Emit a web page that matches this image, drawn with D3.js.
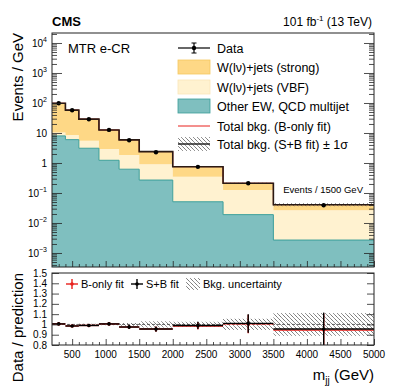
<!DOCTYPE html>
<html>
<head>
<meta charset="utf-8">
<script src="https://cdn.jsdelivr.net/npm/d3@7"></script>
<style>
  body { margin: 0; background: #fff; }
  svg { font-family: "Liberation Sans", Arial, Helvetica, sans-serif; }
</style>
</head>
<body>
<div class="chart"></div>
<script>
// bin edges in m_jj (GeV)
const binEdges = [200, 400, 600, 900, 1200, 1500, 2000, 2750, 3500, 5000];

// stacked backgrounds, events / GeV
const otherEW  = [8.0, 6.0, 3.1, 1.23, 0.62, 0.27, 0.051, 0.019, 0.0027];
const wVBF     = [2.3, 2.6, 2.4, 1.67, 1.23, 0.63, 0.30, 0.107, 0.024];
const wStrong  = [87.7, 49.4, 23.5, 9.7, 4.05, 1.5, 0.40, 0.084, 0.014];

// ratio panel
const ratioSB    = [1.005, 0.985, 0.99, 1.005, 0.975, 0.955, 0.99, 1.01, 0.955];
const ratioSBErr = [0.01, 0.01, 0.01, 0.012, 0.02, 0.025, 0.035, 0.09, 0.16];
const ratioB     = [1.005, 0.985, 0.99, 1.005, 0.975, 0.955, 0.985, 1.005, 0.945];
const bkgUnc     = [0.004, 0.004, 0.006, 0.008, 0.015, 0.03, 0.025, 0.055, 0.11];

const yMajor = [1e-3, 1e-2, 1e-1, 1, 10, 1e2, 1e3, 1e4];
const xMajor = d3.range(500, 5001, 500);
const rMajor = [0.8, 0.9, 1.0, 1.1, 1.2, 1.3, 1.4, 1.5];

const FULL_WIDTH = 399;
const FULL_HEIGHT = 387;
const left = 52, right = 374;
const top1 = 33, bot1 = 267;
const top2 = 273, bot2 = 345;

const cStrong = '#fed886';
const cVBF = '#fff2d0';
const cOther = '#7fbfbf';
const cOtherLine = '#3a9e9a';

const svg = d3.select('.chart')
  .append('svg')
    .attr('width', FULL_WIDTH)
    .attr('height', FULL_HEIGHT);

const defs = svg.append('defs');
defs.append('pattern')
    .attr('id', 'hatch')
    .attr('patternUnits', 'userSpaceOnUse')
    .attr('width', 4).attr('height', 4)
  .append('path')
    .attr('d', 'M-1,-1 l2,2 M0,0 l4,4 M3,3 l2,2')
    .attr('stroke', '#777')
    .attr('stroke-width', 0.8);
defs.append('clipPath').attr('id', 'clipTop')
  .append('rect').attr('x', left).attr('y', top1).attr('width', right - left).attr('height', bot1 - top1);
defs.append('clipPath').attr('id', 'clipBot')
  .append('rect').attr('x', left).attr('y', top2).attr('width', right - left).attr('height', bot2 - top2);

const xScale = d3.scaleLinear().domain([200, 5000]).range([left, right]);
const yScale = d3.scaleLog().domain([Math.pow(10, -3.467), Math.pow(10, 4.333)]).range([bot1, top1]);
const rScale = d3.scaleLinear().domain([0.8, 1.5]).range([bot2, top2]);

const bins = otherEW.map((o, i) => {
  const vbfTop = o + wVBF[i];
  const total = vbfTop + wStrong[i];
  return {
    i, x0: binEdges[i], x1: binEdges[i + 1], xc: (binEdges[i] + binEdges[i + 1]) / 2,
    other: o, vbfTop, total,
    data: total * ratioSB[i]
  };
});

// step points: two per bin
const steps = bins.flatMap(b => [{ x: b.x0, b }, { x: b.x1, b }]);
const yMin = yScale.domain()[0];

const upper = svg.append('g').attr('clip-path', 'url(#clipTop)');

function stepArea (lo, hi, fill) {
  upper.append('path')
    .datum(steps)
    .attr('fill', fill)
    .attr('d', d3.area().x(d => xScale(d.x)).y0(d => yScale(lo(d.b))).y1(d => yScale(hi(d.b))));
}
function stepLine (g, val, color, width, scale) {
  g.append('path')
    .datum(steps)
    .attr('fill', 'none')
    .attr('stroke', color)
    .attr('stroke-width', width)
    .attr('d', d3.line().x(d => xScale(d.x)).y(d => scale(val(d.b))));
}

stepArea(() => yMin, b => b.other, cOther);
stepArea(b => b.other, b => b.vbfTop, cVBF);
stepArea(b => b.vbfTop, b => b.total, cStrong);
stepLine(upper, b => b.other, cOtherLine, 1, yScale);

// S+B uncertainty band on total
upper.append('path')
  .datum(steps)
  .attr('fill', 'url(#hatch)')
  .attr('d', d3.area().x(d => xScale(d.x))
    .y0(d => yScale(d.b.total * (1 - bkgUnc[d.b.i])))
    .y1(d => yScale(d.b.total * (1 + bkgUnc[d.b.i]))));
stepLine(upper, b => b.total * (1 + (ratioSB[b.i] - ratioB[b.i])), '#e8201c', 1, yScale);
stepLine(upper, b => b.total, '#2a1a14', 1.6, yScale);

upper.selectAll('circle.data')
  .data(bins)
  .enter().append('circle')
    .attr('class', 'data')
    .attr('cx', d => xScale(d.xc))
    .attr('cy', d => yScale(d.data))
    .attr('r', 2.2)
    .attr('fill', '#000');

// ---- axes, upper panel
const yMinor = [];
for (let k = -4; k <= 4; k++) {
  for (let m = 2; m <= 9; m++) {
    const v = m * Math.pow(10, k);
    if (v > yScale.domain()[0] && v < yScale.domain()[1]) yMinor.push(v);
  }
}
const xMinor = d3.range(300, 5000, 100).filter(v => v % 500 !== 0);

function ticks (axisFn, scale, values, size, translate) {
  const g = svg.append('g')
    .attr('transform', translate)
    .call(axisFn(scale).tickValues(values).tickSize(size).tickSizeOuter(0).tickFormat(''));
  g.select('.domain').remove();
  g.selectAll('line').attr('stroke', '#222').attr('stroke-width', 0.8);
  return g;
}

ticks(d3.axisLeft, yScale, yMajor, -10, `translate(${left},0)`);
ticks(d3.axisLeft, yScale, yMinor, -5, `translate(${left},0)`);
ticks(d3.axisRight, yScale, yMajor, -10, `translate(${right},0)`);
ticks(d3.axisRight, yScale, yMinor, -5, `translate(${right},0)`);
ticks(d3.axisBottom, xScale, xMajor, -6, `translate(0,${bot1})`);
ticks(d3.axisBottom, xScale, xMinor, -3, `translate(0,${bot1})`);

svg.append('rect')
  .attr('x', left).attr('y', top1)
  .attr('width', right - left).attr('height', bot1 - top1)
  .attr('fill', 'none').attr('stroke', '#222').attr('stroke-width', 1);

const yLab = svg.append('g').attr('font-size', 10).attr('fill', '#000');
yMajor.forEach(v => {
  const k = Math.round(Math.log10(v));
  const t = yLab.append('text')
    .attr('x', 47).attr('y', yScale(v) + 4)
    .attr('text-anchor', 'end');
  if (k === 0) t.text('1');
  else if (k === 1) t.text('10');
  else {
    t.append('tspan').text('10');
    t.append('tspan').attr('font-size', 7).attr('dy', -5).text(k < 0 ? '\u2212' + (-k) : k);
  }
});

// ---- ratio panel
const lower = svg.append('g').attr('clip-path', 'url(#clipBot)');

lower.append('path')
  .datum(steps)
  .attr('fill', 'url(#hatch)')
  .attr('d', d3.area().x(d => xScale(d.x))
    .y0(d => rScale(1 - bkgUnc[d.b.i]))
    .y1(d => rScale(1 + bkgUnc[d.b.i])));
lower.append('line')
  .attr('x1', left).attr('x2', right)
  .attr('y1', rScale(1)).attr('y2', rScale(1))
  .attr('stroke', '#444').attr('stroke-width', 0.8).attr('stroke-dasharray', '3,2');

function ratioPoints (vals, errs, color) {
  const g = lower.append('g').attr('stroke', color).attr('stroke-width', 1.4);
  bins.forEach((b, i) => {
    g.append('line')
      .attr('x1', xScale(b.x0)).attr('x2', xScale(b.x1))
      .attr('y1', rScale(vals[i])).attr('y2', rScale(vals[i]));
    g.append('line')
      .attr('x1', xScale(b.xc)).attr('x2', xScale(b.xc))
      .attr('y1', rScale(vals[i] - errs[i])).attr('y2', rScale(vals[i] + errs[i]));
    g.append('circle')
      .attr('cx', xScale(b.xc)).attr('cy', rScale(vals[i]))
      .attr('r', 1.8).attr('fill', color).attr('stroke', 'none');
  });
}
ratioPoints(ratioB, ratioSBErr, '#e8201c');
ratioPoints(ratioSB, ratioSBErr, '#000');

ticks(d3.axisLeft, rScale, rMajor, -7, `translate(${left},0)`);
ticks(d3.axisRight, rScale, rMajor, -7, `translate(${right},0)`);
ticks(d3.axisBottom, xScale, xMajor, -6, `translate(0,${bot2})`);
ticks(d3.axisBottom, xScale, xMinor, -3, `translate(0,${bot2})`);

svg.append('rect')
  .attr('x', left).attr('y', top2)
  .attr('width', right - left).attr('height', bot2 - top2)
  .attr('fill', 'none').attr('stroke', '#222').attr('stroke-width', 1);

svg.append('g').attr('font-size', 10)
  .selectAll('text')
  .data(rMajor)
  .enter().append('text')
    .attr('x', 47).attr('y', d => rScale(d) + 3.5)
    .attr('text-anchor', 'end')
    .text(d => d3.format('~g')(d));

svg.append('g').attr('font-size', 10)
  .selectAll('text')
  .data(xMajor)
  .enter().append('text')
    .attr('x', d => xScale(d)).attr('y', 358)
    .attr('text-anchor', 'middle')
    .text(d => d);

// ---- titles
svg.append('text').attr('x', 52).attr('y', 26)
  .attr('font-size', 13).attr('font-weight', 'bold').text('CMS');
const lumi = svg.append('text').attr('x', 372).attr('y', 26)
  .attr('font-size', 12).attr('text-anchor', 'end');
lumi.append('tspan').text('101 fb');
lumi.append('tspan').attr('font-size', 8).attr('dy', -5).text('-1');
lumi.append('tspan').attr('dy', 5).text(' (13 TeV)');

svg.append('text').attr('x', 68).attr('y', 53).attr('font-size', 13).text('MTR e-CR');
svg.append('text').attr('x', 363).attr('y', 193).attr('font-size', 9.5)
  .attr('text-anchor', 'end').text('Events / 1500 GeV');

svg.append('text')
  .attr('transform', 'translate(23,33) rotate(-90)')
  .attr('text-anchor', 'end').attr('font-size', 15).text('Events / GeV');
svg.append('text')
  .attr('transform', 'translate(23,273) rotate(-90)')
  .attr('text-anchor', 'end').attr('font-size', 15).text('Data / prediction');

const xt = svg.append('text').attr('x', 374).attr('y', 380)
  .attr('font-size', 15).attr('text-anchor', 'end');
xt.append('tspan').text('m');
xt.append('tspan').attr('font-size', 10).attr('dy', 4).text('jj');
xt.append('tspan').attr('dy', -4).text(' (GeV)');

// ---- legend, upper
const leg = svg.append('g').attr('font-size', 12.5);
const rows = [48, 67, 87, 106, 126, 144];
const lx0 = 178, lx1 = 210, ltx = 217;

leg.append('line').attr('x1', lx0).attr('x2', lx1).attr('y1', rows[0]).attr('y2', rows[0]).attr('stroke', '#000').attr('stroke-width', 1.2);
leg.append('line').attr('x1', 194).attr('x2', 194).attr('y1', rows[0] - 5).attr('y2', rows[0] + 5).attr('stroke', '#000').attr('stroke-width', 1.2);
[rows[0] - 5, rows[0] + 5].forEach(yy => leg.append('line').attr('x1', 191.5).attr('x2', 196.5).attr('y1', yy).attr('y2', yy).attr('stroke', '#000'));
leg.append('circle').attr('cx', 194).attr('cy', rows[0]).attr('r', 2.2);

[[cStrong, '#f5c860'], [cVBF, '#fbe6b8'], [cOther, cOtherLine]].forEach((c, i) => {
  leg.append('rect').attr('x', lx0).attr('y', rows[i + 1] - 7).attr('width', lx1 - lx0).attr('height', 14)
    .attr('fill', c[0]).attr('stroke', c[1]).attr('stroke-width', 0.8);
});
leg.append('line').attr('x1', lx0).attr('x2', lx1).attr('y1', rows[4]).attr('y2', rows[4]).attr('stroke', '#e8201c').attr('stroke-width', 1);
leg.append('rect').attr('x', lx0).attr('y', rows[5] - 7).attr('width', lx1 - lx0).attr('height', 14).attr('fill', 'url(#hatch)');
leg.append('line').attr('x1', lx0).attr('x2', lx1).attr('y1', rows[5]).attr('y2', rows[5]).attr('stroke', '#333').attr('stroke-width', 1.6);

const legLabels = ['Data', 'W(l\u03bd)+jets (strong)', 'W(l\u03bd)+jets (VBF)', 'Other EW, QCD multijet',
  'Total bkg. (B-only fit)', 'Total bkg. (S+B fit) \u00b1 1\u03c3'];
leg.selectAll('text.lab')
  .data(legLabels)
  .enter().append('text')
    .attr('class', 'lab')
    .attr('x', ltx).attr('y', (d, i) => rows[i] + 4.5)
    .text(d => d);

// ---- legend, ratio
const rl = svg.append('g').attr('font-size', 11);
const ry = 284;
function marker (cx, color) {
  const g = rl.append('g').attr('stroke', color).attr('stroke-width', 1.4);
  g.append('line').attr('x1', cx - 6).attr('x2', cx + 6).attr('y1', ry).attr('y2', ry);
  g.append('line').attr('x1', cx).attr('x2', cx).attr('y1', ry - 5).attr('y2', ry + 5);
  g.append('circle').attr('cx', cx).attr('cy', ry).attr('r', 1.8).attr('fill', color).attr('stroke', 'none');
}
marker(72, '#e8201c');
rl.append('text').attr('x', 81).attr('y', ry + 4).text('B-only fit');
marker(137, '#000');
rl.append('text').attr('x', 146).attr('y', ry + 4).text('S+B fit');
rl.append('rect').attr('x', 186).attr('y', ry - 6).attr('width', 14).attr('height', 12).attr('fill', 'url(#hatch)');
rl.append('text').attr('x', 203).attr('y', ry + 4).text('Bkg. uncertainty');
</script>
</body>
</html>
